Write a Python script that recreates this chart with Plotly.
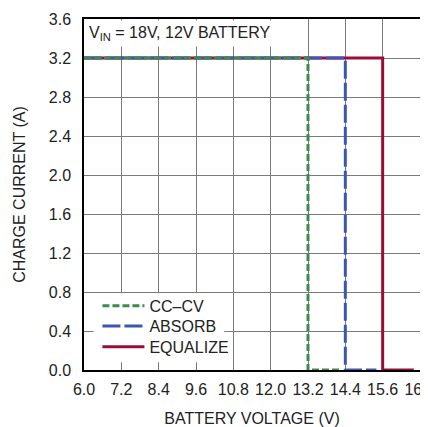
import plotly.graph_objects as go

# Data
cccv_v = [6.0, 13.2, 13.2, 14.2]
cccv_i = [3.2, 3.2, 0.0, 0.0]
absorb_v = [6.0, 14.4, 14.4, 15.4]
absorb_i = [3.2, 3.2, 0.0, 0.0]
equalize_v = [6.0, 15.6, 15.6, 16.6]
equalize_i = [3.2, 3.2, 0.0, 0.0]

x_ticks = [6.0, 7.2, 8.4, 9.6, 10.8, 12.0, 13.2, 14.4, 15.6, 16.8]
y_ticks = [0.0, 0.4, 0.8, 1.2, 1.6, 2.0, 2.4, 2.8, 3.2, 3.6]

FONT = "Liberation Sans Narrow, Arial Narrow, sans-serif"
TXT = "#222222"

fig = go.Figure()
fig.add_trace(go.Scatter(x=equalize_v, y=equalize_i, mode="lines", name="EQUALIZE",
                         legend="legend3",
                         line=dict(color="#9b0c38", width=3)))
fig.add_trace(go.Scatter(x=absorb_v, y=absorb_i, mode="lines", name="ABSORB",
                         legend="legend2",
                         line=dict(color="#3b57b3", width=3, dash="18px,4px")))
fig.add_trace(go.Scatter(x=cccv_v, y=cccv_i, mode="lines", name="CC\u2013CV",
                         legend="legend",
                         line=dict(color="#3c8b4c", width=3, dash="7px,3px")))

leg_common = dict(x=0.04, xanchor="left", yanchor="middle",
                  bgcolor="rgba(0,0,0,0)", font=dict(size=16, color=TXT), itemwidth=42)

fig.update_layout(
    width=428, height=419,
    margin=dict(l=76, r=0, t=11, b=56),
    paper_bgcolor="white", plot_bgcolor="white",
    font=dict(family=FONT, size=16, color=TXT),
    showlegend=True,
    legend=dict(y=0.183, **leg_common),
    legend2=dict(y=0.125, **leg_common),
    legend3=dict(y=0.066, **leg_common),
    annotations=[dict(text="V<sub>IN</sub> = 18V, 12V BATTERY", xref="paper", yref="paper",
                      x=0.003, y=0.997, xanchor="left", yanchor="top", showarrow=False,
                      bgcolor="white", borderpad=3, font=dict(size=16, color=TXT))],
    shapes=[dict(type="rect", xref="x", yref="y", x0=6.31, x1=10.51, y0=0.08, y1=0.787,
                 fillcolor="white", line=dict(width=0), layer="between")],
)
fig.update_xaxes(range=[6.0, 16.8], tickvals=x_ticks, ticktext=[f"{v:.1f}" for v in x_ticks],
                 showgrid=True, gridcolor="#7a7a7a", gridwidth=1,
                 showline=True, linecolor="black", linewidth=2, mirror=True,
                 ticks="outside", ticklen=4, tickcolor="rgba(0,0,0,0)",
                 ticklabeloverflow="allow", zeroline=False,
                 title=dict(text="BATTERY VOLTAGE (V)", standoff=18, font=dict(size=16)))
fig.update_yaxes(range=[0, 3.6], tickvals=y_ticks, ticktext=[f"{v:.1f}" for v in y_ticks],
                 showgrid=True, gridcolor="#7a7a7a", gridwidth=1,
                 showline=True, linecolor="black", linewidth=1.5, mirror=True,
                 ticks="outside", ticklen=8, tickcolor="rgba(0,0,0,0)", zeroline=False,
                 title=dict(text="CHARGE CURRENT (A)", standoff=19, font=dict(size=16)))

fig.write_html("out.html")
